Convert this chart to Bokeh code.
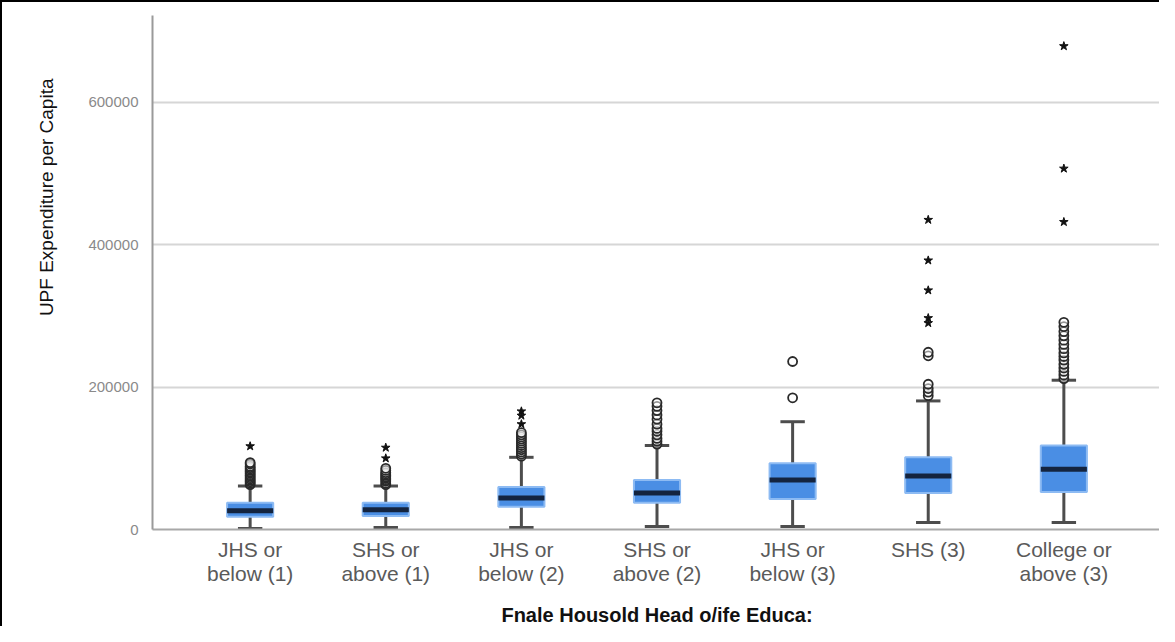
from bokeh.plotting import figure
from bokeh.models import FactorRange, Range1d, FixedTicker, NumeralTickFormatter, ColumnDataSource, Title
from bokeh.embed import file_html
from bokeh.resources import INLINE

categories = ["JHS or\nbelow (1)", "SHS or\nabove (1)", "JHS or\nbelow (2)",
              "SHS or\nabove (2)", "JHS or\nbelow (3)", "SHS (3)", "College or\nabove (3)"]
lower_whisker = [1400, 2800, 2800, 4200, 4200, 9700, 9700]
q1 = [18000, 19000, 32000, 37500, 43000, 51400, 52800]
median = [26400, 27800, 44400, 51400, 69400, 75000, 84700]
q3 = [37500, 37500, 59700, 69400, 93000, 101400, 118000]
upper_whisker = [61100, 61100, 101400, 118000, 151400, 180600, 209700]

outliers_1 = [63000, 65000, 67000, 69000, 71000, 73000, 75000, 77000, 79000, 81000, 83000, 85000, 87000, 89000, 92000, 94000]
outliers_2 = [63000, 65000, 68000, 70000, 72000, 74000, 76000, 78000, 80000, 83000, 86000]
outliers_3 = [103000, 106000, 109000, 112000, 115000, 118000, 121000, 124000, 127000, 130000, 133000, 136000]
outliers_4 = [120000, 124000, 128000, 133000, 138000, 142000, 148000, 155000, 161000, 167000, 173000, 178000]
outliers_5 = [185000, 236000]
outliers_6 = [188000, 193000, 198000, 204000, 244000, 249000]
outliers_7 = [212000, 217000, 222000, 227000, 232000, 238000, 243000, 248000, 254000, 260000, 266000, 272000, 278000, 285000, 291000]

extremes_1 = [117000]
extremes_2 = [100000, 115000]
extremes_3 = [148000, 160000, 166000]
extremes_4 = []
extremes_5 = []
extremes_6 = [290000, 297000, 336000, 378000, 435000]
extremes_7 = [432000, 507000, 679000]

y_ticks = [0, 200000, 400000, 600000]

outliers = [outliers_1, outliers_2, outliers_3, outliers_4, outliers_5, outliers_6, outliers_7]
extremes = [extremes_1, extremes_2, extremes_3, extremes_4, extremes_5, extremes_6, extremes_7]

FONT = "Liberation Sans"

p = figure(width=1159, height=626, output_backend="svg", toolbar_location=None,
           x_range=FactorRange(factors=categories, range_padding=0.22, range_padding_units="absolute"),
           y_range=Range1d(0, 722000),
           min_border_left=150, min_border_right=0, min_border_top=13, min_border_bottom=99)
p.styles = {"border-top": "2px solid black", "border-left": "2px solid black"}
p.outline_line_color = None
p.background_fill_color = "white"

src = ColumnDataSource(dict(cat=categories, lo=lower_whisker, q1=q1, med=median, q3=q3, hi=upper_whisker))

# whiskers
p.segment(x0="cat", y0="q3", x1="cat", y1="hi", source=src, line_color="#4d4d4d", line_width=3)
p.segment(x0="cat", y0="q1", x1="cat", y1="lo", source=src, line_color="#4d4d4d", line_width=3)
# caps
p.rect(x="cat", y="hi", width=0.18, height=3, height_units="screen", source=src,
       fill_color="#4d4d4d", line_color=None)
p.rect(x="cat", y="lo", width=0.18, height=3, height_units="screen", source=src,
       fill_color="#4d4d4d", line_color=None)
# boxes
p.vbar(x="cat", top="q3", bottom="q1", width=0.34, source=src,
       fill_color="#4a8ee4", line_color="#8dbbf3", line_width=2)
# median
p.rect(x="cat", y="med", width=0.34, height=5, height_units="screen", source=src,
       fill_color="#14243f", line_color=None)

ox, oy, ex, ey = [], [], [], []
for c, vals in zip(categories, outliers):
    ox += [c] * len(vals)
    oy += vals
for c, vals in zip(categories, extremes):
    ex += [c] * len(vals)
    ey += vals
p.scatter(x=ox, y=oy, marker="circle", size=9, fill_color="white", fill_alpha=0.5,
          line_color="#2a2a2a", line_width=1.8)
p.scatter(x=ex, y=ey, marker="star", size=9, fill_color="#111111", line_color="#111111")

# axes
p.yaxis.ticker = FixedTicker(ticks=y_ticks)
p.yaxis.formatter = NumeralTickFormatter(format="0")
p.yaxis.major_label_text_font = FONT
p.yaxis.major_label_text_font_size = "15px"
p.yaxis.major_label_text_color = "#8a8a8a"
p.yaxis.major_tick_line_color = None
p.yaxis.minor_tick_line_color = None
p.yaxis.major_tick_out = 0
p.yaxis.major_tick_in = 0
p.yaxis.major_label_standoff = 14
p.yaxis.axis_line_color = "#9a9a9a"
p.yaxis.axis_line_width = 2

p.xaxis.major_label_text_font = FONT
p.xaxis.major_label_text_font_size = "21px"
p.xaxis.major_label_text_color = "#5a5a5a"
p.xaxis.major_label_text_line_height = 1.05
p.xaxis.major_tick_line_color = None
p.xaxis.major_tick_out = 0
p.xaxis.major_tick_in = 0
p.xaxis.major_label_standoff = 8
p.xaxis.axis_line_color = "#a8a8a8"
p.xaxis.axis_line_width = 2
p.xaxis.axis_label = "Fnale Housold Head o/ife Educa:"
p.xaxis.axis_label_text_font = FONT
p.xaxis.axis_label_text_font_style = "bold"
p.xaxis.axis_label_text_font_size = "20px"
p.xaxis.axis_label_text_color = "#111111"
p.xaxis.axis_label_standoff = 16

p.xgrid.grid_line_color = None
p.ygrid.grid_line_color = "#d6d6d6"
p.ygrid.grid_line_width = 2

ytitle = Title(text="UPF Expenditure per Capita", align="right", offset=63, standoff=57,
               text_font=FONT, text_font_size="19px", text_font_style="normal",
               text_color="#111111")
p.add_layout(ytitle, "left")

open("out.html", "w").write(file_html(p, INLINE))
